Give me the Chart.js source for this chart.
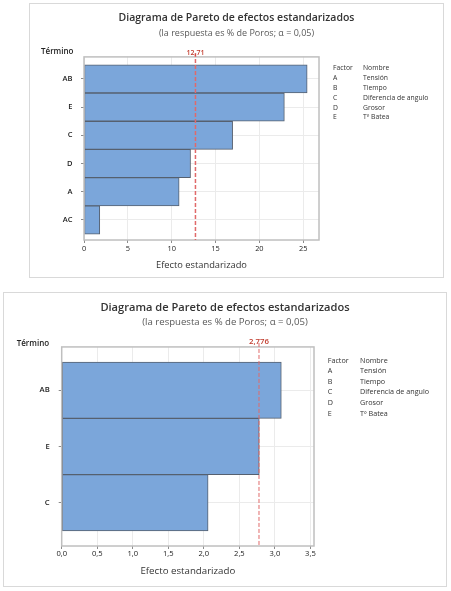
<!DOCTYPE html>
<html>
<head>
<meta charset="utf-8">
<script src="https://cdn.jsdelivr.net/npm/chart.js@4"></script>
<style>
  body { margin: 0; background: #fff; font-family: "Open Sans", sans-serif; color: #333; }
  .box { position: absolute; border: 1px solid #d9d9d9; background: #fff; }
  .wrap { position: absolute; left: 0; top: 0; width: 100%; height: 100%; }
  .term { position: absolute; font-weight: 600; color: #222; white-space: nowrap; }
  .factors { position: absolute; display: grid; color: #333; white-space: nowrap; }
</style>
</head>
<body>

<div class="box" id="box1" style="left:29px;top:3px;width:413px;height:273px">
  <div class="wrap"><canvas id="chart1"></canvas></div>
  <div class="term" style="left:11px;top:42px;font-size:8px;line-height:10px">Término</div>
  <div class="factors" id="factors1" style="left:303px;top:59.4px;font-size:6.8px;line-height:9.8px;grid-template-columns:30px auto"></div>
</div>

<div class="box" id="box2" style="left:3px;top:292px;width:442px;height:293px">
  <div class="wrap"><canvas id="chart2"></canvas></div>
  <div class="term" style="left:12.7px;top:45.3px;font-size:8px;line-height:10px">Término</div>
  <div class="factors" id="factors2" style="left:323.7px;top:61.7px;font-size:7.2px;line-height:10.6px;grid-template-columns:32.3px auto"></div>
</div>

<script>
// datos
const terms1 = ['AB', 'E', 'C', 'D', 'A', 'AC'];
const effects1 = [25.45, 22.85, 16.95, 12.15, 10.85, 1.8];
const limit1 = 12.71;
const xTicks1 = [0, 5, 10, 15, 20, 25];

const terms2 = ['AB', 'E', 'C'];
const effects2 = [3.09, 2.78, 2.06];
const limit2 = 2.776;
const xTicks2 = [0, 0.5, 1, 1.5, 2, 2.5, 3, 3.5];

const factorCodes = ['A', 'B', 'C', 'D', 'E'];
const factorNames = ['Tensión', 'Tiempo', 'Diferencia de angulo', 'Grosor', 'Tº Batea'];

const titleText = 'Diagrama de Pareto de efectos estandarizados';
const subtitleText = '(la respuesta es % de Poros; α = 0,05)';
const xTitleText = 'Efecto estandarizado';

const FONT = '"Open Sans", sans-serif';

// tabla Factor / Nombre
['factors1', 'factors2'].forEach(id => {
    const el = document.getElementById(id);
    let html = '<span>Factor</span><span>Nombre</span>';
    factorCodes.forEach((c, i) => {
        html += `<span>${c}</span><span>${factorNames[i]}</span>`;
    });
    el.innerHTML = html;
});

// marco del area de trazado + linea de referencia
const refLinePlugin = {
    id: 'refLine',
    afterDatasetsDraw(chart, args, opts) {
        const { ctx, chartArea: a, scales: { x } } = chart;
        ctx.save();
        ctx.strokeStyle = '#bfbfbf';
        ctx.lineWidth = 1.5;
        ctx.strokeRect(a.left, a.top, a.right - a.left, a.bottom - a.top);

        const px = x.getPixelForValue(opts.value);
        ctx.strokeStyle = '#e06a6a';
        ctx.lineWidth = opts.width;
        ctx.setLineDash([4, 2]);
        ctx.beginPath();
        ctx.moveTo(px, a.top - 4);
        ctx.lineTo(px, a.bottom);
        ctx.stroke();
        ctx.setLineDash([]);

        ctx.fillStyle = '#c0392b';
        ctx.font = `600 ${opts.fontSize}px ${FONT}`;
        ctx.textAlign = 'center';
        ctx.textBaseline = 'middle';
        ctx.fillText(opts.label, px, a.top - opts.labelGap);
        ctx.restore();
    }
};

function makeChart(id, s) {
    const ctx = document.getElementById(id).getContext('2d');
    return new Chart(ctx, {
        type: 'bar',
        data: {
            datasets: [{
                xAxisID: 'x',
                yAxisID: 'y',
                data: s.values.map((v, i) => ({ x: v, y: i })),
                backgroundColor: '#7ba6da',
                borderColor: '#56606f',
                borderWidth: 1,
                borderSkipped: false,
                barPercentage: 1,
                categoryPercentage: 1
            }]
        },
        plugins: [refLinePlugin],
        options: {
            indexAxis: 'y',
            responsive: true,
            maintainAspectRatio: false,
            animation: false,
            layout: { padding: 0 },
            plugins: {
                legend: { display: false },
                tooltip: { enabled: false },
                title: {
                    display: true,
                    text: titleText,
                    color: '#333',
                    font: { family: FONT, size: s.titleSize, weight: '600' },
                    padding: { top: s.titlePad, bottom: 0 }
                },
                subtitle: {
                    display: true,
                    text: subtitleText,
                    color: '#595959',
                    font: { family: FONT, size: s.subSize },
                    padding: { top: s.subPadTop, bottom: s.subPadBottom }
                },
                refLine: {
                    value: s.limit,
                    label: s.limitLabel,
                    width: s.lineWidth,
                    fontSize: s.limitSize,
                    labelGap: s.labelGap
                }
            },
            scales: {
                x: {
                    type: 'linear',
                    min: 0,
                    max: s.xMax,
                    afterBuildTicks: (sc) => { sc.ticks = s.xTicks.map(v => ({ value: v })); },
                    afterFit: (sc) => { sc.height = s.xHeight; },
                    border: { display: false },
                    grid: { color: '#ebebeb', tickColor: '#8c8c8c', tickLength: 3 },
                    ticks: {
                        color: '#222',
                        padding: s.xTickPad,
                        font: { family: FONT, size: s.tickSize },
                        callback: s.xFormat
                    },
                    title: {
                        display: true,
                        text: xTitleText,
                        color: '#333',
                        font: { family: FONT, size: s.xTitleSize },
                        padding: { top: 0, bottom: s.xTitlePad }
                    }
                },
                y: {
                    type: 'linear',
                    reverse: true,
                    offset: false,
                    min: s.yMin,
                    max: s.yMax,
                    afterBuildTicks: (sc) => { sc.ticks = s.terms.map((t, i) => ({ value: i })); },
                    afterFit: (sc) => { sc.width = s.yWidth; },
                    border: { display: false },
                    grid: { offset: false, color: '#ebebeb', tickColor: '#8c8c8c', tickLength: 3 },
                    ticks: {
                        color: '#222',
                        padding: s.yTickPad,
                        font: { family: FONT, size: s.termSize, weight: '600' },
                        callback: (v) => s.terms[v]
                    }
                },
                // eje vacio a la derecha, deja sitio para la tabla de factores
                pad: {
                    type: 'linear',
                    position: 'right',
                    display: true,
                    border: { display: false },
                    grid: { display: false, drawTicks: false },
                    ticks: { display: false },
                    afterFit: (sc) => { sc.width = s.padRight; }
                }
            }
        }
    });
}

makeChart('chart1', {
    terms: terms1, values: effects1, limit: limit1, limitLabel: '12,71',
    xTicks: xTicks1, xMax: 26.8, yMin: -0.78, yMax: 5.71,
    xFormat: (v) => String(v),
    padRight: 124, xHeight: 37, yWidth: 54,
    titleSize: 10.5, titlePad: 8.2, subSize: 9, subPadTop: 2.8, subPadBottom: 18.5,
    xTitleSize: 9.3, xTitlePad: 6.4, tickSize: 7.4, xTickPad: 1,
    termSize: 7.5, yTickPad: 8.5,
    lineWidth: 1.5, limitSize: 7, labelGap: 4
});

makeChart('chart2', {
    terms: terms2, values: effects2, limit: limit2, limitLabel: '2,776',
    xTicks: xTicks2, xMax: 3.55, yMin: -0.77, yMax: 2.77,
    xFormat: (v) => v.toFixed(1).replace('.', ','),
    padRight: 132, xHeight: 40, yWidth: 57.7,
    titleSize: 11.1, titlePad: 8.3, subSize: 9.6, subPadTop: 2.1, subPadBottom: 18.7,
    xTitleSize: 9.7, xTitlePad: 8.5, tickSize: 7.6, xTickPad: 0.5,
    termSize: 7.7, yTickPad: 9,
    lineWidth: 1, limitSize: 7.8, labelGap: 5.5
});
</script>
</body>
</html>
